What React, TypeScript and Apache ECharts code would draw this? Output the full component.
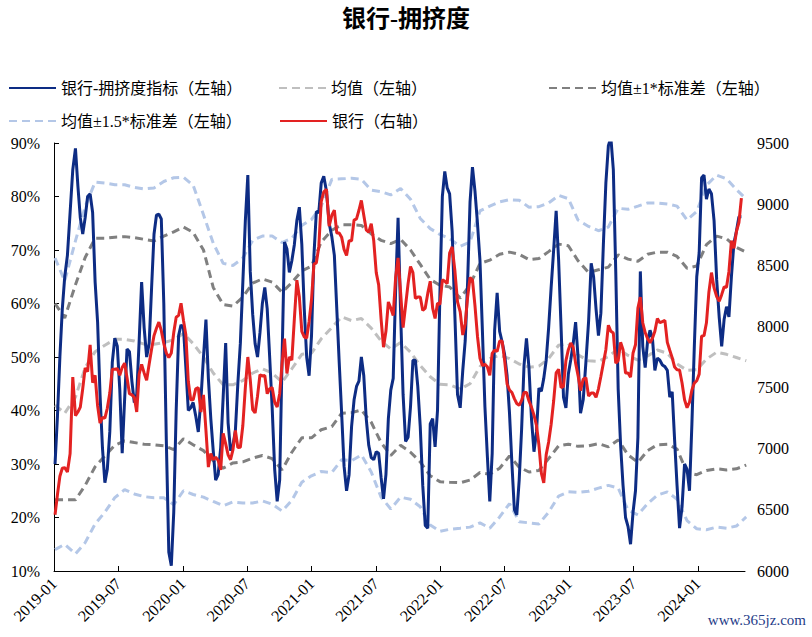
import React, { useEffect, useRef } from "react";
import * as echarts from "echarts";

const TITLE = "银行-拥挤度";
const WATERMARK = "www.365jz.com";
const START_DATE = "2019-01-04";
const MAIN_STEP_DAYS = 7;
const BAND_STEP_DAYS = 28;
const X_TICK_LABELS = ["2019-01", "2019-07", "2020-01", "2020-07", "2021-01", "2021-07", "2022-01", "2022-07", "2023-01", "2023-07", "2024-01"];

const NAME_CROWD = "银行-拥挤度指标（左轴）";
const NAME_MEAN = "均值（左轴）";
const NAME_SD1 = "均值±1*标准差（左轴）";
const NAME_SD15 = "均值±1.5*标准差（左轴）";
const NAME_BANK = "银行（右轴）";

// weekly crowding indicator (%)
const CROWD = [
  30, 39, 50, 59, 65, 69, 77, 85, 89, 82,
  76, 73, 76, 80, 80.5, 77, 64, 56.5, 43, 33,
  26.5, 29, 36, 49, 53.5, 52, 44, 32, 42, 51.5,
  51, 45.5, 41.5, 43, 53, 64, 55.5, 50, 52.5, 63,
  73, 76.5, 76.7, 75.8, 60, 34.5, 13.5, 11, 21, 40,
  54, 56, 55.5, 48, 40, 40.5, 41.5, 39, 36, 42,
  50, 57, 46, 38.5, 32.5, 27, 28, 33, 42.5, 52.6,
  37.7, 32.5, 33.5, 36.2, 45, 52.5, 64, 75.5, 84, 66,
  58, 52.5, 50, 54.5, 60, 63, 59, 50, 40.5, 29,
  23, 27, 50, 71.5, 70.2, 65.8, 68, 71, 75.5, 78,
  71, 59, 50, 46.5, 54, 69, 77.2, 77, 82.5, 83.8,
  81, 75, 72.5, 69, 59, 49, 39.5, 29.6, 25, 28,
  37, 42, 44.5, 45.5, 50, 46.5, 38.5, 33.5, 31.2, 30.8,
  32.3, 32, 27.5, 23.5, 28, 38.5, 43.8, 46, 62.5, 76,
  58.5, 43, 34.2, 35, 40.7, 49.4, 49.4, 44.5, 37, 26,
  18.5, 18, 37.5, 38.5, 33.2, 40, 62, 80, 84.7, 81.6,
  80.5, 73.5, 58, 43, 40.5, 47.5, 53, 64, 79, 85.5,
  81, 75, 68, 54.5, 40.7, 31.5, 23, 32, 55, 62,
  54.8, 52.8, 50.4, 46.5, 39.5, 30, 21.5, 20.5, 27, 36.5,
  48.5, 53.5, 48, 38.5, 32.3, 36, 44.2, 43.6, 46, 49.4,
  55.5, 63, 70, 77.3, 68, 55.5, 42.5, 40.5, 46.8, 49.5,
  52.5, 56.5, 50, 39.5, 42, 49, 56.6, 67.5, 65, 59,
  54, 58.2, 71, 82.5, 89.5, 91, 85, 66, 44, 33.5,
  26, 20, 18.3, 15, 21, 25, 35, 66, 52, 48,
  53, 55, 53.5, 47.5, 49.8, 49.4, 48.5, 48.2, 47.5, 42.5,
  43.5, 34.5, 26, 18, 22, 30, 29, 25, 37.5, 52,
  65, 69.5, 83.5, 84, 79.5, 81.4, 80.5, 75.5, 64.5, 57.3,
  52, 57, 59.4, 57.5, 65, 71.3, 73.5, 76.2, 76.2,
];

// weekly bank index (right axis)
const BANK = [
  6460, 6625, 6775, 6840, 6845, 6810, 6960, 7586, 7270, 7300,
  7340, 7490, 7660, 7630, 7850, 7540, 7600, 7350, 7210, 7255,
  7250, 7330, 7455, 7650, 7650, 7655, 7600, 7665, 7700, 7580,
  7450, 7440, 7420, 7300, 7610, 7690, 7620, 7560, 7690, 7815,
  7925, 7985, 8035, 7965, 7860, 7783, 7745, 7783, 7950, 8075,
  8090, 8190, 8050, 7930, 7550, 7400, 7400, 7490, 7500, 7300,
  7440, 7150, 6850, 6960, 6910, 6930, 6905, 6826, 7125, 7040,
  6950, 6910, 6990, 7150, 7010, 7012, 7190, 7500, 7750, 7565,
  7320, 7292, 7430, 7605, 7595, 7600, 7450, 7490, 7500, 7380,
  7341, 7450, 7700, 7900, 7615, 7750, 7725, 8060, 8378, 8240,
  7960, 7915, 7905, 8040, 8220, 8510, 8520, 8650, 9020, 9100,
  9120, 8820, 8910, 8950, 8764, 8764, 8730, 8630, 8580, 8700,
  8700, 8870, 8880, 8950, 9030, 8910, 8790, 8770, 8840, 8700,
  8440, 8340, 8060, 7830, 7960, 8200, 8150, 8090, 8400, 8560,
  8280, 7990, 8170, 8350, 8490, 8440, 8230, 8240, 8240, 8130,
  8150, 8270, 8370, 8150, 8065, 8190, 8180, 8380, 8370, 8350,
  8600, 8650, 8460, 8200, 8120, 7930, 8020, 8240, 8400, 8380,
  8170, 7920, 7740, 7680, 7690, 7670, 7600, 7780, 7807, 7795,
  7880, 7880, 7720, 7530, 7480, 7460, 7410, 7370, 7355, 7395,
  7460, 7460, 7390, 7340, 7275, 7190, 7030, 6800, 6720, 6950,
  7055, 7200, 7390, 7620, 7650, 7500, 7510, 7720, 7810, 7865,
  7830, 7700, 7600, 7475, 7570, 7580, 7430, 7455, 7455, 7420,
  7490, 7590, 7700, 7810, 8010, 7960, 7946, 7700, 7720, 7870,
  7810, 7619, 7619, 7585, 7783, 7850, 8150, 8240, 8030, 7950,
  7900, 7867, 7903, 7960, 8065, 8030, 8040, 8050, 7870, 7805,
  7745, 7668, 7645, 7643, 7537, 7400, 7335, 7380, 7480, 7537,
  7556, 7610, 7920, 7925, 8030, 8280, 8440, 8315, 8245, 8205,
  8260, 8322, 8320, 8450, 8700, 8640, 8775, 8850, 9050,
];

// 4-weekly band values (%)
const MEAN = [
  41, 39.5, 42.5, 48, 51, 52.2, 53.3, 53.3, 53, 52.4,
  52.4, 52.7, 53.2, 54.4, 52.5, 50, 47, 44.8, 44.8, 45.6,
  47, 47.8, 47, 45.3, 47.8, 50.5, 50.7, 53.4, 55.5, 57.5,
  56.8, 57.2, 55.4, 53, 51.5, 52.7, 50.9, 48.4, 46.3, 44.9,
  44.8, 44, 45, 48.2, 49.7, 50.3, 49.7, 48.7, 48.1, 48.3,
  49.7, 52.2, 52.5, 50.4, 49.3, 49.2, 50.1, 51.5, 50.3, 49.4,
  50.2, 51.3, 50.7, 48.7, 47.5, 47.6, 49.6, 50.9, 50.5, 49.9,
  49.3,
];
const UPPER_1SD = [
  60, 57.3, 63.5, 68.6, 72.2, 72.2, 72.4, 72.5, 72.3, 72,
  71.7, 72.6, 73.4, 74.3, 73.3, 70, 63, 59.8, 59.5, 61.2,
  63.8, 64.6, 64, 62.1, 63.9, 66.1, 67, 71.5, 73.7, 74.7,
  74.7, 74.6, 73, 71.8, 71.2, 72, 70, 67.3, 64.5, 63.4,
  63.1, 61, 63.5, 67.5, 68.1, 69.2, 69.6, 69.2, 68.2, 68.4,
  69.7, 71.1, 70.8, 68, 65.8, 66.3, 66.8, 69.1, 68.3, 67.9,
  69.2, 69.6, 69.6, 68.8, 66.6, 67, 71, 72.6, 72.1, 70.5,
  69.6,
];
const LOWER_1SD = [
  23.3, 23.3, 23.3, 26, 29.5, 31.5, 33.5, 34.3, 34, 33.7,
  33.6, 33.4, 32.7, 34.7, 33.6, 32.5, 30.6, 29.2, 30.2, 30.4,
  31.1, 31.6, 31, 28.9, 32.2, 34.9, 34.9, 36.4, 37, 39.5,
  39.6, 40.1, 37.8, 34, 31.6, 33.5, 32.2, 30.4, 27.8, 26.7,
  26.6, 26.5, 27, 28.4, 28.1, 29.2, 31.5, 29.4, 28.5, 28.8,
  31, 33.4, 33.7, 33.3, 33.4, 33.8, 33.2, 34.5, 31.7, 30.3,
  32.5, 33.6, 33.7, 32.8, 28.4, 28, 28.8, 29.1, 28.9, 29.1,
  29.8,
];
const UPPER_15SD = [
  68.5, 64.2, 71.7, 78.1, 82.7, 82.5, 82.2, 82.2, 81.7, 81.4,
  81.6, 82.8, 83.5, 83.6, 82.1, 76.6, 71.3, 67.5, 67.1, 68.5,
  71.8, 72.6, 72.6, 71.4, 72.2, 74.6, 75.7, 78.2, 83.2, 83.3,
  83.4, 83.2, 81.2, 80.9, 80.3, 81.5, 79.5, 75.9, 74, 72.9,
  72.1, 70.7, 71.5, 77.3, 78.2, 79, 79.4, 79.3, 78, 78.1,
  78.8, 80.2, 79.6, 75.6, 74.4, 73.6, 74.3, 77.8, 77.6, 78.2,
  78.8, 78.8, 78.6, 78.2, 75.6, 77.2, 82.1, 84, 83.3, 81.3,
  79.5,
];
const LOWER_15SD = [
  14, 15, 13.2, 15.3, 18.8, 21, 23.7, 25.2, 24.4, 23.9,
  23.7, 23.7, 22.4, 25, 24.3, 23.8, 23, 22.2, 22.9, 22.7,
  22.7, 23.1, 22.5, 21.2, 23.2, 26.6, 27.8, 28.6, 28.4, 30.8,
  30.6, 31.7, 28.5, 23.8, 21.6, 23.8, 23.4, 22, 18.6, 17.4,
  17.8, 18, 18.2, 19, 18, 20.1, 22.6, 19.2, 19, 18.8,
  21, 24, 24.8, 24.7, 24.9, 25.5, 26, 25.5, 21.4, 20.5,
  22.6, 24.2, 24.8, 23.4, 19.4, 17.9, 17.7, 18.2, 18, 18.4,
  20.1,
];

const FONT = "'Liberation Serif', 'Noto Sans CJK SC', serif";

function monthPos(start: string, days: number): number {
  const d = new Date(start + "T00:00:00Z");
  d.setUTCDate(d.getUTCDate() + days);
  const y = d.getUTCFullYear();
  const m = d.getUTCMonth();
  const dim = new Date(Date.UTC(y, m + 1, 0)).getUTCDate();
  return (y - 2019) * 12 + m + (d.getUTCDate() - 1) / dim;
}

function toSeries(values: number[], stepDays: number) {
  return values.map((v, i) => [monthPos(START_DATE, i * stepDays), v]);
}

export default function App() {
  const ref = useRef<HTMLDivElement>(null);
  useEffect(() => {
    if (!ref.current) return;
    const chart = echarts.init(ref.current, undefined, { renderer: "svg" });
    const dashed = (name: string, color: string, data: number[]) => ({
      name,
      type: "line",
      data: toSeries(data, BAND_STEP_DAYS),
      showSymbol: false,
      symbol: "none",
      smooth: false,
      lineStyle: { color, width: 3, type: [8, 5] },
      itemStyle: { color },
      yAxisIndex: 0,
      z: 2,
    });
    const legendCommon = {
      padding: 0,
      itemWidth: 47,
      itemHeight: 14,
      itemGap: 0,
      selectedMode: false,
      itemStyle: { opacity: 0 },
      textStyle: { fontSize: 16, fontFamily: FONT, color: "#000" },
    };
    chart.setOption({
      animation: false,
      backgroundColor: "#fff",
      title: {
        text: TITLE,
        left: "center",
        top: 2,
        textStyle: { fontSize: 24, fontWeight: "bold", fontFamily: FONT, color: "#000" },
      },
      legend: [
        { ...legendCommon, data: [NAME_CROWD], left: 8, top: 80 },
        { ...legendCommon, data: [NAME_MEAN], left: 278, top: 80 },
        { ...legendCommon, data: [NAME_SD1], left: 548, top: 80 },
        { ...legendCommon, data: [NAME_SD15], left: 8, top: 113 },
        { ...legendCommon, data: [NAME_BANK], left: 279, top: 113 },
      ],
      grid: { left: 54, right: 67, top: 143, bottom: 66, containLabel: false },
      xAxis: {
        type: "value",
        min: 0,
        max: 64.4,
        interval: 6,
        splitLine: { show: false },
        axisLine: { show: true, onZero: false, lineStyle: { color: "#000", width: 1 } },
        axisTick: { show: true, inside: true, length: 5, lineStyle: { color: "#000" } },
        axisLabel: {
          rotate: 45,
          margin: 10,
          fontSize: 16,
          fontFamily: FONT,
          color: "#000",
          showMaxLabel: false,
          formatter: (v: number) => {
            const k = v / 6;
            return Number.isInteger(k) && X_TICK_LABELS[k] ? X_TICK_LABELS[k] : "";
          },
        },
      },
      yAxis: [
        {
          type: "value",
          min: 10,
          max: 90,
          interval: 10,
          splitLine: { show: false },
          axisLine: { show: true, lineStyle: { color: "#000", width: 1 } },
          axisTick: { show: true, inside: true, length: 5, lineStyle: { color: "#000" } },
          axisLabel: { formatter: "{value}%", fontSize: 16, fontFamily: FONT, color: "#000", margin: 14 },
        },
        {
          type: "value",
          min: 6000,
          max: 9500,
          interval: 500,
          position: "right",
          splitLine: { show: false },
          axisLine: { show: false },
          axisTick: { show: false },
          axisLabel: {
            fontSize: 16,
            fontFamily: FONT,
            color: "#000",
            margin: 12,
            formatter: (v: number) => String(v),
          },
        },
      ],
      series: [
        dashed(NAME_SD15, "#b4c7e7", UPPER_15SD),
        dashed(NAME_SD15, "#b4c7e7", LOWER_15SD),
        dashed(NAME_SD1, "#808080", UPPER_1SD),
        dashed(NAME_SD1, "#808080", LOWER_1SD),
        dashed(NAME_MEAN, "#bfbfbf", MEAN),
        {
          name: NAME_CROWD,
          type: "line",
          data: toSeries(CROWD, MAIN_STEP_DAYS),
          showSymbol: false,
          symbol: "none",
          lineStyle: { color: "#0d2c84", width: 3 },
          itemStyle: { color: "#0d2c84" },
          yAxisIndex: 0,
          z: 3,
        },
        {
          name: NAME_BANK,
          type: "line",
          data: toSeries(BANK, MAIN_STEP_DAYS),
          showSymbol: false,
          symbol: "none",
          lineStyle: { color: "#e32222", width: 3 },
          itemStyle: { color: "#e32222" },
          yAxisIndex: 1,
          z: 4,
        },
      ],
      graphic: [
        {
          type: "text",
          right: 6,
          top: 612,
          style: { text: WATERMARK, fontSize: 15, fontFamily: FONT, fill: "#1f3c88" },
        },
      ],
    });
    return () => chart.dispose();
  }, []);
  return <div ref={ref} style={{ position: "fixed", left: 0, top: 0, width: 812, height: 637 }} />;
}
